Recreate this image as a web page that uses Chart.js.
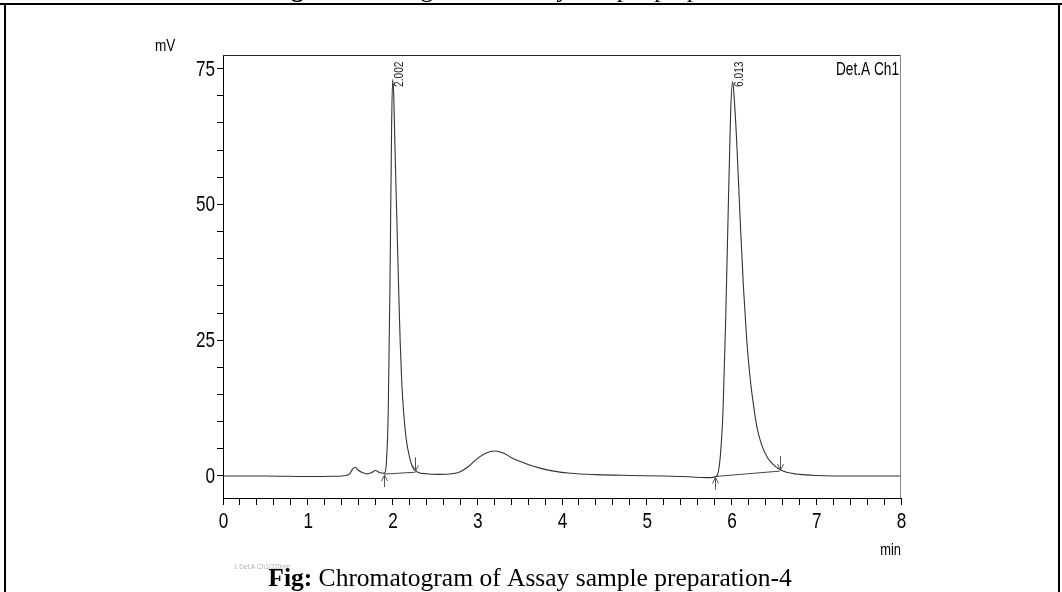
<!DOCTYPE html>
<html>
<head>
<meta charset="utf-8">
<script src="https://cdn.jsdelivr.net/npm/chart.js@4.4.1/dist/chart.umd.min.js"></script>
<style>
html,body{margin:0;padding:0;background:#fff;}
#wrap{position:relative;width:1062px;height:592px;}
canvas{display:block;}
</style>
</head>
<body>
<div id="wrap"><canvas id="c" width="1062" height="592"></canvas></div>
<script>
// ---- data ----
const timeMin = [0, 0.5, 1.0, 1.3, 1.45, 1.5, 1.53, 1.56, 1.6, 1.65, 1.7, 1.75, 1.8, 1.84, 1.88, 1.91, 1.93, 1.95, 1.97, 1.99, 2.002, 2.015, 2.03, 2.05, 2.07, 2.09, 2.11, 2.13, 2.16, 2.2, 2.24, 2.3, 2.4, 2.55, 2.7, 2.8, 2.9, 3.0, 3.1, 3.2, 3.3, 3.4, 3.5, 3.6, 3.75, 3.9, 4.1, 4.4, 4.8, 5.2, 5.5, 5.7, 5.8, 5.84, 5.87, 5.9, 5.93, 5.96, 5.99, 6.013, 6.03, 6.06, 6.1, 6.14, 6.18, 6.22, 6.26, 6.3, 6.35, 6.42, 6.5, 6.57, 6.65, 6.8, 7.0, 7.5, 8.0];
const signalMV = [0, 0, -0.1, -0.05, 0.1, 0.5, 1.3, 1.6, 1.0, 0.6, 0.4, 0.6, 1.0, 0.7, 0.5, 0.6, 3, 12, 35, 65, 73, 70, 60, 48, 36, 25, 17, 12, 7, 3.5, 1.5, 0.7, 0.4, 0.3, 0.4, 0.8, 1.8, 3.2, 4.2, 4.6, 4.3, 3.4, 2.7, 2.1, 1.4, 0.9, 0.5, 0.25, 0.1, 0, -0.15, -0.3, -0.2, 0.5, 4, 12, 28, 48, 67, 72.6, 70, 62, 48, 35, 25, 18, 13, 9, 6, 3.5, 2, 1.2, 0.7, 0.3, 0.1, 0, 0];

const peakTimes = [2.002, 6.013];
const peakLabels = ['2.002', '6.013'];

// integration baselines: start / end of each peak
const peakStartT = [1.9, 5.8];
const peakStartV = [0.35, -0.1];
const peakEndT = [2.27, 6.57];
const peakEndV = [0.7, 0.9];

const yTickValues = [0, 5, 10, 15, 20, 25, 30, 35, 40, 45, 50, 55, 60, 65, 70, 75];
const yTickLabels = ['0', '', '', '', '', '25', '', '', '', '', '50', '', '', '', '', '75'];
const xTickValues = [];
for (let i = 0; i <= 40; i++) xTickValues.push(Math.round(i * 20) / 100);
const xTickLabels = xTickValues.map(v => Number.isInteger(v) ? String(v) : '');

const yTitle = 'mV';
const xTitle = 'min';
const channelLabel = 'Det.A Ch1';
const captionBold = 'Fig:';
const captionText = ' Chromatogram of Assay sample preparation-4';
const prevCaptionText = ' Chromatogram of Assay sample preparation-3';
const footnote = '1 Det.A Ch1/220nm';

const SANS = "'Liberation Sans', Arial, sans-serif";
const SERIF = "'Liberation Serif', 'Times New Roman', serif";

const traceData = timeMin.map((t, i) => ({x: t, y: signalMV[i]}));
const baselineSets = peakStartT.map((t, i) => ({
  data: [{x: t, y: peakStartV[i]}, {x: peakEndT[i], y: peakEndV[i]}],
  borderColor: '#444', borderWidth: 1, pointRadius: 0, tension: 0
}));

// draw horizontally condensed text (the instrument font is a narrow sans)
function narrowText(ctx, text, x, y, size, align, sx, baseline) {
  ctx.save();
  ctx.font = size + 'px ' + SANS;
  ctx.textBaseline = baseline || 'middle';
  ctx.textAlign = 'left';
  const w = ctx.measureText(text).width * sx;
  let x0 = x;
  if (align === 'right') x0 = x - w;
  else if (align === 'center') x0 = x - w / 2;
  ctx.translate(x0, y);
  ctx.scale(sx, 1);
  ctx.fillText(text, 0, 0);
  ctx.restore();
}

const decor = {
  id: 'decor',
  beforeDraw(chart) {
    const ctx = chart.ctx;
    ctx.save();
    ctx.fillStyle = '#fff';
    ctx.fillRect(0, 0, chart.width, chart.height);
    ctx.restore();
  },
  afterDraw(chart) {
    const ctx = chart.ctx;
    const a = chart.chartArea;
    const xs = chart.scales.x, ys = chart.scales.y;
    ctx.save();
    // plot box top and right
    ctx.strokeStyle = '#222'; ctx.lineWidth = 1;
    ctx.beginPath(); ctx.moveTo(a.left, a.top + 0.5); ctx.lineTo(a.right, a.top + 0.5); ctx.stroke();
    ctx.strokeStyle = '#888';
    ctx.beginPath(); ctx.moveTo(a.right - 0.5, a.top); ctx.lineTo(a.right - 0.5, a.bottom); ctx.stroke();

    ctx.fillStyle = '#000';
    // tick labels at the library's tick positions
    ys.ticks.forEach((t, i) => {
      const lab = yTickLabels[i];
      if (!lab) return;
      narrowText(ctx, lab, a.left - 8, ys.getPixelForValue(t.value) + 1, 22, 'right', 0.78);
    });
    xs.ticks.forEach((t, i) => {
      const lab = xTickLabels[i];
      if (!lab) return;
      narrowText(ctx, lab, xs.getPixelForValue(t.value) + 0.5, a.bottom + 24, 22, 'center', 0.78);
    });

    // axis titles
    narrowText(ctx, yTitle, 155, 46, 17, 'left', 0.8);
    narrowText(ctx, channelLabel, a.right - 2, a.top + 15, 19, 'right', 0.72);
    narrowText(ctx, xTitle, a.right, 550, 17, 'right', 0.76);

    // peak labels (rotated)
    ctx.fillStyle = '#222';
    peakTimes.forEach((t, i) => {
      const px = xs.getPixelForValue(t);
      ctx.save();
      ctx.translate(px + 7, a.top + 32);
      ctx.rotate(-Math.PI / 2);
      ctx.scale(0.85, 1);
      ctx.font = "12px " + SANS;
      ctx.textAlign = 'left';
      ctx.textBaseline = 'middle';
      ctx.fillText(peakLabels[i], 0, 0);
      ctx.restore();
    });

    // integration arrows
    ctx.strokeStyle = '#555'; ctx.lineWidth = 1;
    peakStartT.forEach((t, i) => {
      const px = Math.round(xs.getPixelForValue(t)) + 0.5;
      const py = ys.getPixelForValue(peakStartV[i]);
      ctx.beginPath();
      ctx.moveTo(px, py + 13); ctx.lineTo(px, py + 1);
      ctx.moveTo(px - 3, py + 7); ctx.lineTo(px, py + 1); ctx.lineTo(px + 3, py + 7);
      ctx.stroke();
    });
    peakEndT.forEach((t, i) => {
      const px = Math.round(xs.getPixelForValue(t)) + 0.5;
      const py = ys.getPixelForValue(peakEndV[i]);
      ctx.beginPath();
      ctx.moveTo(px, py - 15); ctx.lineTo(px, py - 1);
      ctx.moveTo(px - 3, py - 7); ctx.lineTo(px, py - 1); ctx.lineTo(px + 3, py - 7);
      ctx.stroke();
    });

    // faint footnote
    ctx.fillStyle = '#b0b0b0';
    narrowText(ctx, footnote, 234, 567, 8, 'left', 0.8);

    // captions
    const CS = 25.5;
    const drawCaption = (y, rest) => {
      ctx.fillStyle = '#000';
      ctx.textBaseline = 'alphabetic';
      ctx.textAlign = 'left';
      ctx.font = "bold " + CS + "px " + SERIF;
      const wb = ctx.measureText(captionBold).width;
      ctx.font = CS + "px " + SERIF;
      const wr = ctx.measureText(rest).width;
      const x0 = 530 - (wb + wr) / 2;
      ctx.font = "bold " + CS + "px " + SERIF;
      ctx.fillText(captionBold, x0, y);
      ctx.font = CS + "px " + SERIF;
      ctx.fillText(rest, x0 + wb, y);
    };
    drawCaption(586, captionText);
    drawCaption(-3, prevCaptionText);

    // page frame
    ctx.fillStyle = '#000';
    ctx.fillRect(0, 3, 1062, 2);
    ctx.fillRect(4, 3, 2, 589);
    ctx.fillRect(1058, 3, 2, 589);
    ctx.restore();
  }
};

new Chart(document.getElementById('c'), {
  type: 'line',
  data: {
    datasets: [
      {data: traceData, borderColor: '#333', borderWidth: 1.1, pointRadius: 0, cubicInterpolationMode: 'monotone'},
      ...baselineSets
    ]
  },
  options: {
    responsive: false,
    animation: false,
    devicePixelRatio: 1,
    layout: {padding: {left: 0, right: 161, top: 55, bottom: 0}},
    plugins: {legend: {display: false}, tooltip: {enabled: false}},
    scales: {
      x: {
        type: 'linear', min: 0, max: 8,
        afterBuildTicks: s => { s.ticks = xTickValues.map(v => ({value: v})); },
        afterFit: s => { s.height = 94; },
        ticks: {autoSkip: false, maxRotation: 0, minRotation: 0, padding: 6, callback: () => ''},
        grid: {drawOnChartArea: false, drawTicks: true, tickLength: 7, color: '#000'},
        border: {display: true, color: '#000', width: 1}
      },
      y: {
        type: 'linear', min: -4.05, max: 77.5,
        afterBuildTicks: s => { s.ticks = yTickValues.map(v => ({value: v})); },
        afterFit: s => { s.width = 223; },
        ticks: {autoSkip: false, padding: 2, callback: () => ''},
        grid: {drawOnChartArea: false, drawTicks: true, tickLength: 6, color: '#000'},
        border: {display: true, color: '#000', width: 1}
      }
    }
  },
  plugins: [decor]
});
</script>
</body>
</html>
